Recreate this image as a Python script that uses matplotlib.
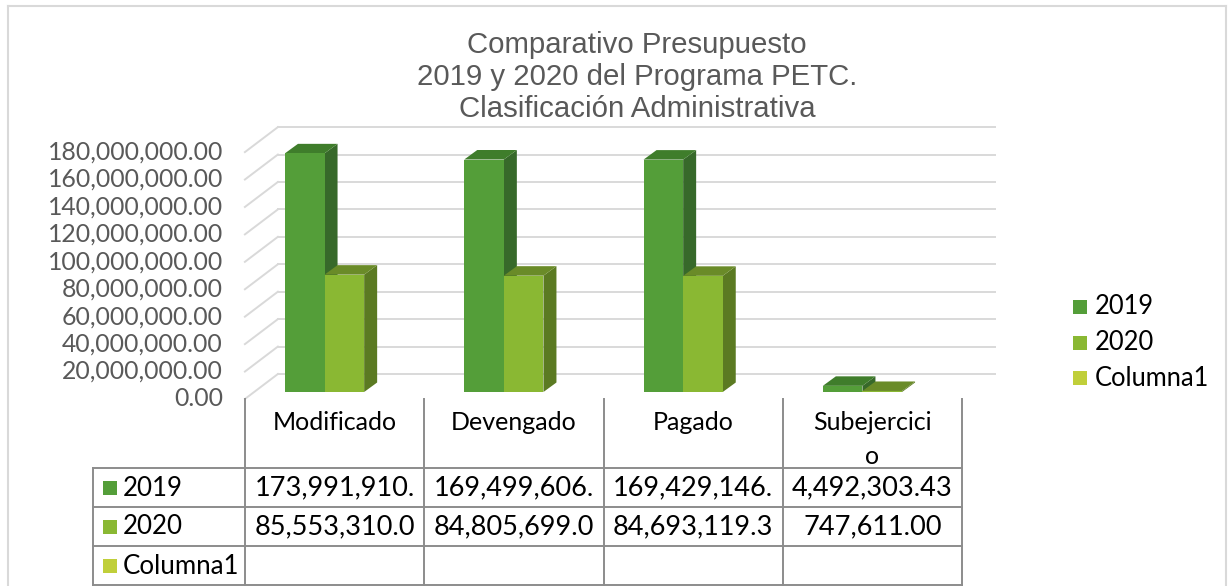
import matplotlib
matplotlib.use("Agg")
import matplotlib.pyplot as plt
from matplotlib.patches import Polygon, Rectangle
from matplotlib.lines import Line2D
from matplotlib.transforms import offset_copy, blended_transform_factory

# data
categorias = ["Modificado", "Devengado", "Pagado", "Subejercicio"]
encabezados = ["Modificado", "Devengado", "Pagado", "Subejercici\no"]
series = ["2019", "2020", "Columna1"]
valores_2019 = [173991910.00, 169499606.00, 169429146.00, 4492303.43]
valores_2020 = [85553310.00, 84805699.00, 84693119.30, 747611.00]
valores_col1 = [None, None, None, None]
ticks_y = [0, 20e6, 40e6, 60e6, 80e6, 100e6, 120e6, 140e6, 160e6, 180e6]

colores = {"2019": "#549E39", "2020": "#8AB833", "Columna1": "#C0CF3A"}
lado = {"2019": "#37692A", "2020": "#5B7A22"}
tapa = {"2019": "#3F7D2B", "2020": "#6A8B28"}

FONT = "Lato"
W, H = 1230, 586
fig = plt.figure(figsize=(W / 100, H / 100), dpi=100)


def fx(px):
    return px / W


def fy(py):
    return 1 - py / H


# axes = front plane of the bars
ax = fig.add_axes([fx(234.9), fy(392), 717.2 / W, 246.9 / H])
ax.set_xlim(-0.5, 3.5)
ax.set_ylim(0, 180e6)
ax.axis("off")

ux = 717.2 / 4          # px per category
uy = 246.9 / 180e6      # px per value unit


def sh(dxp, dyp):
    return dxp / ux, dyp / uy


bx, by = sh(43, 18)     # back wall
fxo, fyo = sh(10, -7)   # floor front edge
ddx, ddy = sh(13, 9.5)  # bar depth

# back wall gridlines + side wall diagonals + tick labels
lab_tr = offset_copy(ax.transData, fig=fig, x=-22, y=0, units="dots")
for v in ticks_y:
    ax.plot([-0.5 + bx, 3.5 + bx], [v + by, v + by], color="#D9D9D9", lw=1.4,
            clip_on=False, zorder=1)
    ax.plot([-0.5 + fxo, -0.5 + bx], [v + fyo, v + by], color="#D9D9D9", lw=1.4,
            clip_on=False, zorder=1)
    ax.text(-0.5 + fxo, v + fyo, f"{v:,.2f}", transform=lab_tr, ha="right",
            va="center", fontsize=17.8, color="#595959", family=FONT)

# 3d-looking bars
w = 39.6 / ux
for i in range(len(categorias)):
    for s, (nombre, vals) in enumerate([("2019", valores_2019), ("2020", valores_2020)]):
        v = vals[i]
        x0 = i - w + s * w
        x1 = x0 + w
        ax.add_patch(Polygon([(x1, 0), (x1 + ddx, ddy), (x1 + ddx, v + ddy), (x1, v)],
                             closed=True, fc=lado[nombre], ec="none", clip_on=False, zorder=2))
        ax.add_patch(Polygon([(x0, v), (x1, v), (x1 + ddx, v + ddy), (x0 + ddx, v + ddy)],
                             closed=True, fc=tapa[nombre], ec="none", clip_on=False, zorder=2))
        ax.add_patch(Rectangle((x0, 0), w, v, fc=colores[nombre], ec="none",
                               clip_on=False, zorder=2))

# title
titulo = ["Comparativo Presupuesto", "2019 y 2020 del Programa PETC.",
          "Clasificación Administrativa"]
for k, linea in enumerate(titulo):
    fig.text(fx(637), fy(53 + 32 * k), linea, ha="center", va="baseline",
             fontsize=21.2, color="#595959", family="Liberation Sans")

# data table
front_tr = offset_copy(ax.transData, fig=fig, x=10, y=-7, units="dots")
col_tr = blended_transform_factory(front_tr, fig.transFigure)
gris = "#8C8C8C"
for c in range(len(categorias) + 1):
    fig.add_artist(Line2D([c - 0.5, c - 0.5], [fy(399), fy(585)], transform=col_tr,
                          color=gris, lw=1.4))
for yy in [468, 507, 546, 585]:
    fig.add_artist(Line2D([fx(93), fx(962)], [fy(yy), fy(yy)], color=gris, lw=1.4))
fig.add_artist(Line2D([fx(93), fx(93)], [fy(468), fy(585)], color=gris, lw=1.4))

for i, enc in enumerate(encabezados):
    for k, parte in enumerate(enc.split("\n")):
        fig.text(i, fy(423 + 34 * k), parte, transform=col_tr, ha="center", va="center",
                 fontsize=18, color="black", family=FONT)

filas = [("2019", valores_2019, 488), ("2020", valores_2020, 527),
         ("Columna1", valores_col1, 566)]
for nombre, vals, yy in filas:
    fig.add_artist(Rectangle((fx(103), fy(yy + 7)), 14 / W, 14 / H, fc=colores[nombre],
                             ec="none"))
    fig.text(fx(123), fy(yy), nombre, ha="left", va="center", fontsize=18.6,
             color="black", family=FONT)
    for i, v in enumerate(vals):
        if v is None:
            continue
        fig.text(i, fy(yy), f"{v:,.2f}"[:12], transform=col_tr, ha="center",
                 va="center", fontsize=19.5, color="black", family=FONT)

# legend
for nombre, yy in zip(series, [307, 343, 378]):
    fig.add_artist(Rectangle((fx(1073), fy(yy + 7)), 14 / W, 14 / H,
                             fc=colores[nombre], ec="none"))
    fig.text(fx(1095), fy(yy), nombre, ha="left", va="center", fontsize=18.4,
             color="black", family=FONT)

# chart frame
for xs, ys in [([8, 8], [6, 586]), ([8, 1226], [6, 6]), ([1226, 1226], [6, 586])]:
    fig.add_artist(Line2D([fx(x) for x in xs], [fy(y) for y in ys],
                          color="#D9D9D9", lw=1.5))

fig.savefig("out.png", dpi=100)
